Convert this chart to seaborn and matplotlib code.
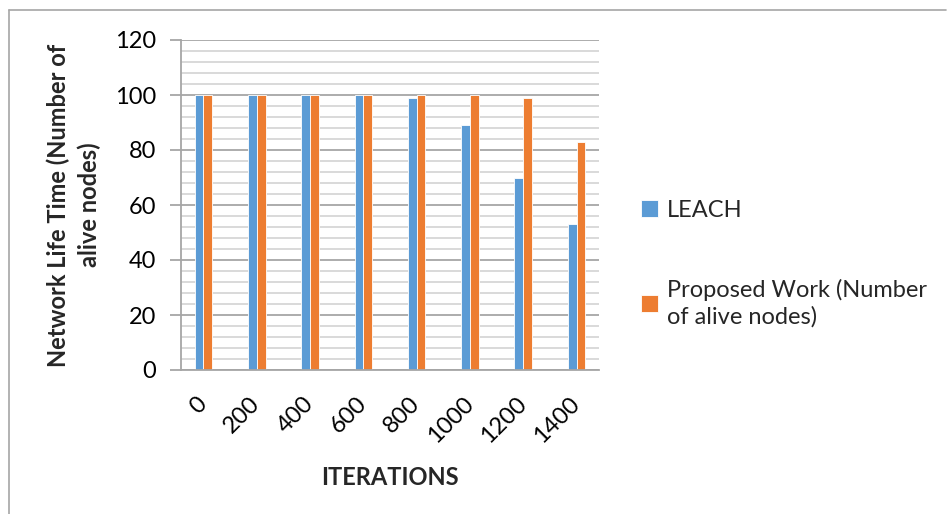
import matplotlib
matplotlib.use("Agg")
import matplotlib.pyplot as plt
from matplotlib.ticker import MultipleLocator
from matplotlib.lines import Line2D
import seaborn as sns
import pandas as pd

iterations = ["0", "200", "400", "600", "800", "1000", "1200", "1400"]
leach = [100, 100, 100, 100, 99, 89, 70, 53]
proposed = [100, 100, 100, 100, 100, 100, 99, 83]
series_names = ["LEACH", "Proposed Work (Number\nof alive nodes)"]
colors = ["#5B9BD5", "#ED7D31"]

df = pd.DataFrame({
    "Iteration": iterations * 2,
    "Alive": leach + proposed,
    "Series": [series_names[0]] * len(iterations) + [series_names[1]] * len(iterations),
})

sns.set_theme(style="white")
plt.rcParams["font.family"] = ["Lato", "DejaVu Sans"]

fig = plt.figure(figsize=(9.47, 5.14), dpi=100)
ax = fig.add_axes([181 / 947, 1 - 370 / 514, 418 / 947, 330 / 514])

sns.barplot(data=df, x="Iteration", y="Alive", hue="Series", order=iterations,
            hue_order=series_names, palette=colors, width=0.33, saturation=1,
            edgecolor="white", linewidth=0.6, ax=ax, legend=True)

ax.set_ylim(0, 120)
ax.set_xlim(-0.42, len(iterations) - 0.58)
ax.yaxis.set_major_locator(MultipleLocator(20))
ax.yaxis.set_minor_locator(MultipleLocator(4))
ax.grid(axis="y", which="major", color="#A6A6A6", linewidth=1.3, zorder=0)
ax.grid(axis="y", which="minor", color="#D0D0D0", linewidth=1.1, zorder=0)
ax.set_axisbelow(True)

for s in ["top", "right"]:
    ax.spines[s].set_visible(False)
for s in ["left", "bottom"]:
    ax.spines[s].set_color("#A6A6A6")
    ax.spines[s].set_linewidth(1.3)

ax.tick_params(axis="y", which="major", left=True, length=8, width=1.3,
               color="#A6A6A6", labelsize=17, pad=10, labelcolor="black")
ax.tick_params(axis="y", which="minor", left=False)
ax.tick_params(axis="x", bottom=False, labelsize=17, pad=16, labelcolor="black")
for lbl in ax.get_xticklabels():
    lbl.set_rotation(45)
    lbl.set_ha("right")
    lbl.set_va("center")
    lbl.set_rotation_mode("anchor")

ax.set_xlabel("ITERATIONS", fontsize=17, fontweight="bold", labelpad=14)
ax.set_ylabel("Network Life Time (Number of\nalive nodes)", fontsize=17,
              fontweight="bold", labelpad=10, linespacing=1.35)

handles, labels = ax.get_legend_handles_labels()
leg = ax.legend(handles, labels, loc="upper left", bbox_to_anchor=(641 / 947, 1 - 200 / 514),
                bbox_transform=fig.transFigure, frameon=False, fontsize=17,
                handlelength=0.7, handleheight=0.7, handletextpad=0.4,
                labelspacing=2.45, borderaxespad=0, borderpad=0)
for t in leg.get_texts():
    t.set_linespacing(1.3)

# outer frame of the chart area
fig.add_artist(Line2D([9 / 947, 9 / 947], [0, 1 - 10 / 514], transform=fig.transFigure,
                      color="#A6A6A6", linewidth=1.2))
fig.add_artist(Line2D([9 / 947, 946 / 947], [1 - 10 / 514, 1 - 10 / 514],
                      transform=fig.transFigure, color="#A6A6A6", linewidth=1.2))

fig.savefig("out.png", dpi=100, facecolor="white")
